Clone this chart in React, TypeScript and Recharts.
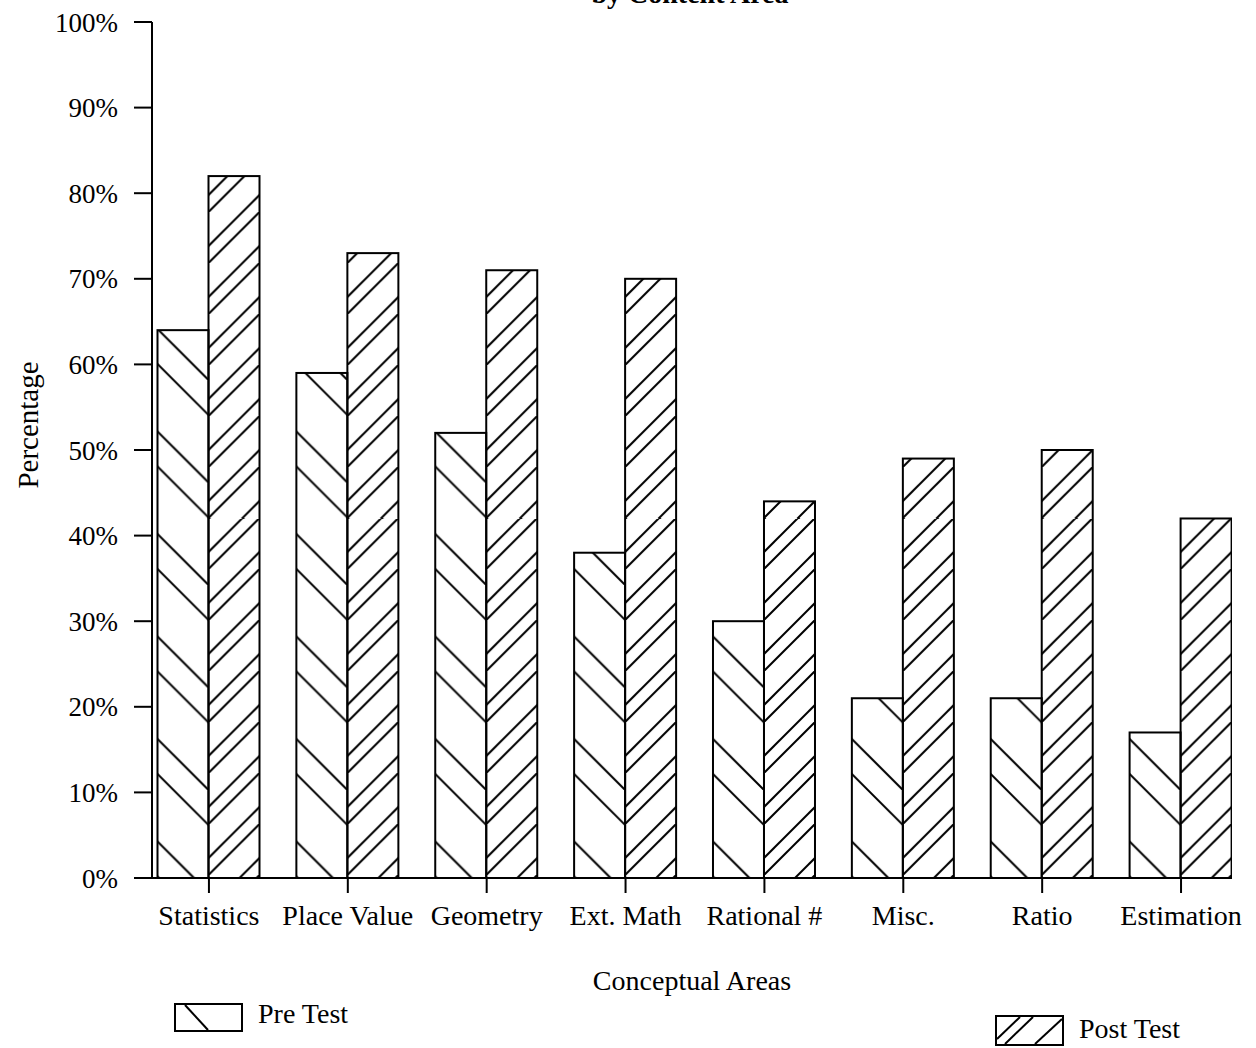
import React from "react";
import {
  BarChart,
  Bar,
  XAxis,
  YAxis,
  Legend,
  Label,
} from "recharts";

const categories = [
  "Statistics",
  "Place Value",
  "Geometry",
  "Ext. Math",
  "Rational #",
  "Misc.",
  "Ratio",
  "Estimation",
];
const preTest = [64, 59, 52, 38, 30, 21, 21, 17];
const postTest = [82, 73, 71, 70, 44, 49, 50, 42];
const yTicks = [0, 10, 20, 30, 40, 50, 60, 70, 80, 90, 100];

const data = categories.map((name, i) => ({
  idx: i,
  name,
  pre: preTest[i],
  post: postTest[i],
}));

const FONT = '"Liberation Serif", "Times New Roman", serif';
const INK = "#000";

// hatch shapes, pattern anchored to each bar
const PreShape = (props: any) => {
  const { x, y, width, height, index } = props;
  if (!height || height <= 0) return null;
  const P = 102.5;
  const id = `pre-hatch-${index}`;
  return (
    <g>
      <defs>
        <pattern id={id} patternUnits="userSpaceOnUse" x={x + width} y={y + height + 14.5} width={P} height={P}>
          <line x1={-2} y1={-2} x2={P + 2} y2={P + 2} stroke={INK} strokeWidth={2} />
          <line x1={-2} y1={33} x2={P - 33} y2={P + 2} stroke={INK} strokeWidth={2} />
          <line x1={P - 37} y1={-2} x2={P + 2} y2={37} stroke={INK} strokeWidth={2} />
        </pattern>
      </defs>
      <rect x={x} y={y} width={width} height={height} fill={`url(#${id})`} stroke={INK} strokeWidth={2} />
    </g>
  );
};

const PostShape = (props: any) => {
  const { x, y, width, height, index } = props;
  if (!height || height <= 0) return null;
  const P = 51;
  const id = `post-hatch-${index}`;
  return (
    <g>
      <defs>
        <pattern id={id} patternUnits="userSpaceOnUse" x={x} y={y + height - 3} width={P} height={P}>
          <line x1={-2} y1={P + 2} x2={P + 2} y2={-2} stroke={INK} strokeWidth={2} />
          <line x1={-2} y1={36} x2={36} y2={-2} stroke={INK} strokeWidth={2} />
          <line x1={32} y1={P + 2} x2={P + 2} y2={32} stroke={INK} strokeWidth={2} />
        </pattern>
      </defs>
      <rect x={x} y={y} width={width} height={height} fill={`url(#${id})`} stroke={INK} strokeWidth={2} />
    </g>
  );
};

const LegendBox = () => (
  <div style={{ position: "relative", width: 1256, height: 0, fontFamily: FONT, fontSize: 28, color: INK }}>
    <div style={{ position: "absolute", left: 174, top: 1003, display: "flex", alignItems: "center" }}>
      <svg width={70} height={30}>
        <rect x={1} y={1} width={67} height={27} fill="#fff" stroke={INK} strokeWidth={2} />
        <line x1={11} y1={2} x2={34} y2={27} stroke={INK} strokeWidth={2} />
      </svg>
      <span style={{ marginLeft: 14, marginTop: -8 }}>Pre Test</span>
    </div>
    <div style={{ position: "absolute", left: 995, top: 1015, display: "flex", alignItems: "center" }}>
      <svg width={70} height={32}>
        <rect x={1} y={1} width={67} height={29} fill="#fff" stroke={INK} strokeWidth={2} />
        <line x1={2} y1={24} x2={25} y2={2} stroke={INK} strokeWidth={2} />
        <line x1={10} y1={29} x2={38} y2={2} stroke={INK} strokeWidth={2} />
        <line x1={40} y1={29} x2={67} y2={4} stroke={INK} strokeWidth={2} />
      </svg>
      <span style={{ marginLeft: 14, marginTop: -4 }}>Post Test</span>
    </div>
  </div>
);

const YTitle = (props: any) => {
  const vb = props.viewBox || {};
  const cx = 38;
  const cy = (vb.y || 0) + (vb.height || 0) / 2 - 25;
  return (
    <text
      x={cx}
      y={cy}
      transform={`rotate(-90, ${cx}, ${cy})`}
      textAnchor="middle"
      fontFamily={FONT}
      fontSize={29}
      fill={INK}
    >
      Percentage
    </text>
  );
};

export default function App() {
  const xDomain: [number, number] = [-0.41, 7.367];
  return (
    <div style={{ position: "absolute", left: 0, top: 0, width: 1256, height: 1048, background: "#fff" }}>
      <div
        style={{
          position: "absolute",
          left: 0,
          width: 1380,
          top: -20,
          textAlign: "center",
          fontFamily: FONT,
          fontSize: 28,
          fontWeight: "bold",
          lineHeight: "28px",
          color: INK,
        }}
      >
        by Content Area
      </div>
      <BarChart
        width={1256}
        height={1048}
        data={data}
        margin={{ top: 22, right: 24, bottom: 50, left: 0 }}
        barGap={0}
        barSize={51}
        style={{ fontFamily: FONT }}
      >
        <XAxis
          dataKey="idx"
          type="number"
          domain={xDomain}
          allowDataOverflow
          ticks={[0, 1, 2, 3, 4, 5, 6, 7]}
          interval={0}
          tickFormatter={(v: number) => categories[v] ?? ""}
          height={120}
          axisLine={{ stroke: INK, strokeWidth: 2 }}
          tickLine={{ stroke: INK, strokeWidth: 2 }}
          tickSize={15}
          tickMargin={12}
          tick={{ fill: INK, fontSize: 28, fontFamily: FONT }}
        >
          <Label
            value="Conceptual Areas"
            position="insideBottom"
            offset={8}
            style={{ fill: INK, fontSize: 28, fontFamily: FONT }}
          />
        </XAxis>
        <XAxis
          xAxisId="top"
          orientation="top"
          type="number"
          domain={xDomain}
          allowDataOverflow
          height={0}
          tick={false}
          tickLine={false}
          axisLine={{ stroke: INK, strokeWidth: 2 }}
        />
        <YAxis
          domain={[0, 100]}
          ticks={yTicks}
          interval={0}
          width={152}
          tickFormatter={(v: number) => `${v}%`}
          axisLine={{ stroke: INK, strokeWidth: 2 }}
          tickLine={{ stroke: INK, strokeWidth: 2 }}
          tickSize={18}
          tickMargin={16}
          tick={{ fill: INK, fontSize: 27, fontFamily: FONT }}
        >
          <Label content={<YTitle />} />
        </YAxis>
        <YAxis
          yAxisId="right"
          orientation="right"
          domain={[0, 100]}
          width={0}
          tick={false}
          tickLine={false}
          axisLine={{ stroke: INK, strokeWidth: 2 }}
        />
        <Legend
          content={<LegendBox />}
          wrapperStyle={{ position: "absolute", left: 0, top: 0, width: 1256, height: 0 }}
        />
        <Bar dataKey="pre" name="Pre Test" shape={<PreShape />} isAnimationActive={false} />
        <Bar dataKey="post" name="Post Test" shape={<PostShape />} isAnimationActive={false} />
      </BarChart>
    </div>
  );
}
